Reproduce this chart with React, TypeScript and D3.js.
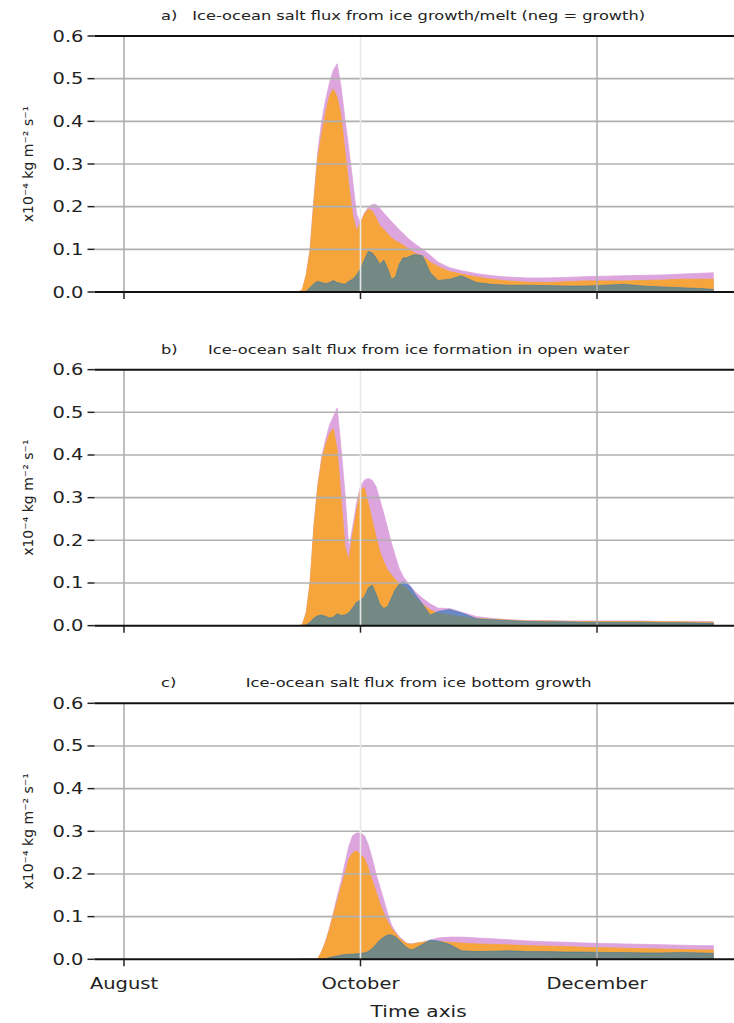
import React from "react";
import * as d3 from "d3";

// Days relative to 1 October
const dayOffsets = [
  -16, -15, -14, -13, -12, -11, -10, -9, -8, -7,
  -6, -5, -4, -3, -2, -1, 0, 1, 2, 3,
  4, 5, 6, 7, 8, 9, 10, 11, 12, 13,
  14, 16, 18, 20, 23, 26, 30, 34, 38, 43,
  48, 53, 58, 63, 68, 73, 78, 83, 88, 91,
];

const aPlum = [
  0, 0.005, 0.04, 0.1, 0.22, 0.33, 0.4, 0.45, 0.49, 0.52,
  0.535, 0.48, 0.405, 0.335, 0.26, 0.182, 0.162, 0.185, 0.198, 0.205,
  0.205, 0.196, 0.185, 0.175, 0.165, 0.155, 0.146, 0.137, 0.128, 0.12,
  0.113, 0.1, 0.086, 0.07, 0.057, 0.05, 0.043, 0.038, 0.035, 0.033,
  0.033, 0.034, 0.036, 0.037, 0.038, 0.039, 0.04, 0.042, 0.044, 0.045,
];
const aOrange = [
  0, 0.005, 0.04, 0.096, 0.213, 0.315, 0.37, 0.42, 0.46, 0.476,
  0.456, 0.413, 0.33, 0.25, 0.18, 0.143, 0.162, 0.182, 0.194, 0.19,
  0.174, 0.155, 0.147, 0.136, 0.127, 0.12, 0.115, 0.11, 0.103, 0.097,
  0.091, 0.085, 0.07, 0.06, 0.048, 0.042, 0.035, 0.03, 0.026, 0.023,
  0.022, 0.024, 0.026, 0.026, 0.026, 0.027, 0.028, 0.03, 0.03, 0.03,
];
const aBlue = [
  0, 0, 0.002, 0.01, 0.02, 0.025, 0.022, 0.02, 0.022, 0.027,
  0.022, 0.02, 0.018, 0.025, 0.03, 0.04, 0.055, 0.075, 0.095, 0.092,
  0.08, 0.065, 0.075, 0.055, 0.03, 0.035, 0.065, 0.08, 0.08, 0.085,
  0.088, 0.085, 0.045, 0.027, 0.03, 0.038, 0.022, 0.018, 0.016, 0.016,
  0.015, 0.014, 0.014, 0.016, 0.018, 0.014, 0.012, 0.01, 0.008, 0.006,
];

const bPlum = [
  0, 0.002, 0.03, 0.1, 0.235, 0.33, 0.395, 0.435, 0.47, 0.49,
  0.51, 0.415, 0.31, 0.18, 0.232, 0.287, 0.326, 0.341, 0.345, 0.341,
  0.326, 0.295, 0.263, 0.228, 0.193, 0.162, 0.134, 0.115, 0.103, 0.091,
  0.08, 0.064, 0.051, 0.041, 0.04, 0.032, 0.021, 0.017, 0.014, 0.012,
  0.012, 0.011, 0.011, 0.011, 0.011, 0.011, 0.01, 0.01, 0.01, 0.009,
];
const bOrange = [
  0, 0.002, 0.03, 0.1, 0.232, 0.326, 0.388, 0.423, 0.45, 0.462,
  0.41, 0.3, 0.185, 0.154, 0.216, 0.27, 0.318, 0.324, 0.287, 0.248,
  0.209, 0.173, 0.15, 0.13, 0.119, 0.107, 0.1, 0.093, 0.088, 0.076,
  0.068, 0.05, 0.037, 0.029, 0.025, 0.021, 0.017, 0.015, 0.013, 0.011,
  0.011, 0.01, 0.01, 0.01, 0.01, 0.01, 0.009, 0.009, 0.008, 0.008,
];
const bBlue = [
  0, 0, 0.002, 0.008, 0.018, 0.023, 0.025, 0.022, 0.018, 0.02,
  0.028, 0.024, 0.025, 0.03, 0.042, 0.055, 0.06, 0.068, 0.088, 0.095,
  0.075, 0.05, 0.04, 0.045, 0.065, 0.085, 0.097, 0.103, 0.098, 0.09,
  0.075, 0.05, 0.025, 0.033, 0.038, 0.03, 0.016, 0.014, 0.012, 0.01,
  0.009, 0.009, 0.008, 0.008, 0.008, 0.008, 0.007, 0.007, 0.006, 0.006,
];

const cPlum = [
  0, 0, 0, 0, 0, 0.002, 0.018, 0.042, 0.073, 0.108,
  0.147, 0.182, 0.225, 0.265, 0.29, 0.296, 0.296, 0.29, 0.269, 0.237,
  0.2, 0.17, 0.139, 0.108, 0.08, 0.065, 0.053, 0.045, 0.037, 0.036,
  0.037, 0.04, 0.045, 0.05, 0.052, 0.052, 0.05, 0.048, 0.046, 0.043,
  0.041, 0.04, 0.038, 0.037, 0.036, 0.035, 0.034, 0.033, 0.032, 0.032,
];
const cOrange = [
  0, 0, 0, 0, 0, 0.002, 0.018, 0.04, 0.07, 0.105,
  0.135, 0.17, 0.2, 0.235, 0.25, 0.254, 0.245, 0.237, 0.214, 0.186,
  0.159, 0.131, 0.108, 0.088, 0.073, 0.061, 0.05, 0.042, 0.037, 0.035,
  0.037, 0.04, 0.043, 0.042, 0.04, 0.038, 0.036, 0.035, 0.034, 0.032,
  0.031, 0.03, 0.028, 0.027, 0.026, 0.025, 0.024, 0.023, 0.022, 0.022,
];
const cBlue = [
  0, 0, 0, 0, 0, 0, 0, 0.001, 0.004, 0.006,
  0.008, 0.01, 0.011, 0.012, 0.012, 0.013, 0.014, 0.015, 0.018, 0.025,
  0.035, 0.045, 0.052, 0.057, 0.057, 0.053, 0.045, 0.035, 0.027, 0.022,
  0.025, 0.035, 0.045, 0.043, 0.035, 0.02, 0.018, 0.019, 0.02, 0.018,
  0.018, 0.017, 0.017, 0.016, 0.016, 0.015, 0.015, 0.016, 0.015, 0.014,
];

const panelLetters = ["a)", "b)", "c)"];
const panelTitles = [
  "Ice-ocean salt flux from ice growth/melt (neg = growth)",
  "Ice-ocean salt flux from ice formation in open water",
  "Ice-ocean salt flux from ice bottom growth",
];
const yTicks = [0, 0.1, 0.2, 0.3, 0.4, 0.5, 0.6];
const yTickLabels = ["0.0", "0.1", "0.2", "0.3", "0.4", "0.5", "0.6"];
const xTickDates = ["2021-08-01", "2021-10-01", "2021-12-01"];
const xTickLabels = ["August", "October", "December"];
const xLabel = "Time axis";
const referenceDate = "2021-10-01";
const dataRange = ["2021-08-01", "2021-12-31"];

const panels = [
  { plum: aPlum, orange: aOrange, blue: aBlue },
  { plum: bPlum, orange: bOrange, blue: bBlue },
  { plum: cPlum, orange: cOrange, blue: cBlue },
];

const W = 734;
const H = 1023;
const LEFT = 94.5;
const RIGHT = 742.8;
const TOP0 = 36;
const PANEL_STEP = 333.65;
const PANEL_H = 256;
const SX = 1.3;
const FONT = "DejaVu Sans";

const parse = d3.utcParse("%Y-%m-%d");
const ref = parse(referenceDate)!;
const dates = dayOffsets.map((d) => d3.utcDay.offset(ref, d));
const d0 = parse(dataRange[0])!;
const d1 = parse(dataRange[1])!;
const span = d1.getTime() - d0.getTime();
const x = d3
  .scaleUtc()
  .domain([new Date(d0.getTime() - 0.05 * span), new Date(d1.getTime() + 0.05 * span)])
  .range([LEFT, RIGHT]);

function SText(props: {
  x: number;
  y: number;
  anchor?: string;
  size: number;
  children: React.ReactNode;
  fill?: string;
}) {
  return (
    <text
      transform={`translate(${props.x},${props.y}) scale(${SX},1)`}
      textAnchor={props.anchor || "start"}
      fontSize={props.size}
      fontFamily={FONT}
      fill={props.fill || "#222"}
    >
      {props.children}
    </text>
  );
}

function Panel({ i }: { i: number }) {
  const top = TOP0 + i * PANEL_STEP;
  const y = d3.scaleLinear().domain([0, 0.6]).range([top + PANEL_H, top]);
  const p = panels[i];
  const mk = (vals: number[]) =>
    d3
      .area<number>()
      .x((_, k) => x(dates[k]))
      .y0(y(0))
      .y1((v) => y(v))(vals) || "";
  const clipId = `clip${i}`;
  const cx = (LEFT + RIGHT) / 2;
  const tickDates = xTickDates.map((s) => parse(s)!);
  return (
    <g>
      <defs>
        <clipPath id={clipId}>
          <rect x={LEFT} y={top} width={RIGHT - LEFT} height={PANEL_H} />
        </clipPath>
      </defs>
      <g clipPath={`url(#${clipId})`}>
        <path d={mk(p.plum)} fill="#dda5de" stroke="#dda5de" strokeWidth={0.8} />
        <path d={mk(p.orange)} fill="#f5a53c" stroke="#f5a53c" strokeWidth={0.8} />
        <path
          d={mk(p.blue)}
          fill="#1f77b4"
          fillOpacity={0.6}
          stroke="#1f77b4"
          strokeOpacity={0.6}
          strokeWidth={0.8}
        />
      </g>
      {/* grid */}
      {yTicks
        .filter((t) => t > 0 && t < 0.6)
        .map((t) => (
          <line key={"h" + t} x1={LEFT} x2={RIGHT} y1={y(t)} y2={y(t)} stroke="#b0b0b0" strokeWidth={1.6} />
        ))}
      {tickDates.map((d, k) => (
        <line
          key={"v" + k}
          x1={x(d)}
          x2={x(d)}
          y1={top}
          y2={top + PANEL_H}
          stroke={k === 1 ? "#e8e8e8" : "#b0b0b0"}
          strokeWidth={1.6}
        />
      ))}
      {/* spines */}
      <line x1={LEFT} x2={RIGHT} y1={y(0.6)} y2={y(0.6)} stroke="#111" strokeWidth={2} />
      <line x1={LEFT} x2={RIGHT} y1={y(0)} y2={y(0)} stroke="#111" strokeWidth={2} />
      {/* y ticks */}
      {yTicks.map((t, k) => (
        <g key={"yt" + k}>
          <line x1={LEFT - 7} x2={LEFT} y1={y(t)} y2={y(t)} stroke="#222" strokeWidth={1.5} />
          <SText x={LEFT - 11} y={y(t) + 5.5} anchor="end" size={15}>
            {yTickLabels[k]}
          </SText>
        </g>
      ))}
      {/* x ticks */}
      {tickDates.map((d, k) => (
        <line key={"xt" + k} x1={x(d)} x2={x(d)} y1={y(0)} y2={y(0) + 7} stroke="#222" strokeWidth={1.5} />
      ))}
      {i === 2 &&
        tickDates.map((d, k) => (
          <SText key={"xl" + k} x={x(d)} y={y(0) + 30} anchor="middle" size={15}>
            {xTickLabels[k]}
          </SText>
        ))}
      {/* title */}
      <SText x={161} y={top - 16} size={12.5}>
        {panelLetters[i]}
      </SText>
      <SText x={cx} y={top - 16} anchor="middle" size={12.5}>
        {panelTitles[i]}
      </SText>
      {/* y label */}
      <text
        transform={`translate(33,${top + PANEL_H / 2}) rotate(-90)`}
        textAnchor="middle"
        fontSize={14}
        fontFamily={FONT}
        fill="#222"
      >
        x10⁻⁴ kg m⁻² s⁻¹
      </text>
    </g>
  );
}

export default function App() {
  return (
    <div style={{ position: "absolute", left: 0, top: 0, width: W, height: H, background: "#fff" }}>
      <svg width={W} height={H} viewBox={`0 0 ${W} ${H}`} style={{ display: "block" }}>
        <rect x={0} y={0} width={W} height={H} fill="#fff" />
        {panels.map((_, i) => (
          <Panel key={i} i={i} />
        ))}
        <SText x={(LEFT + RIGHT) / 2} y={1017} anchor="middle" size={15.5}>
          {xLabel}
        </SText>
      </svg>
    </div>
  );
}
